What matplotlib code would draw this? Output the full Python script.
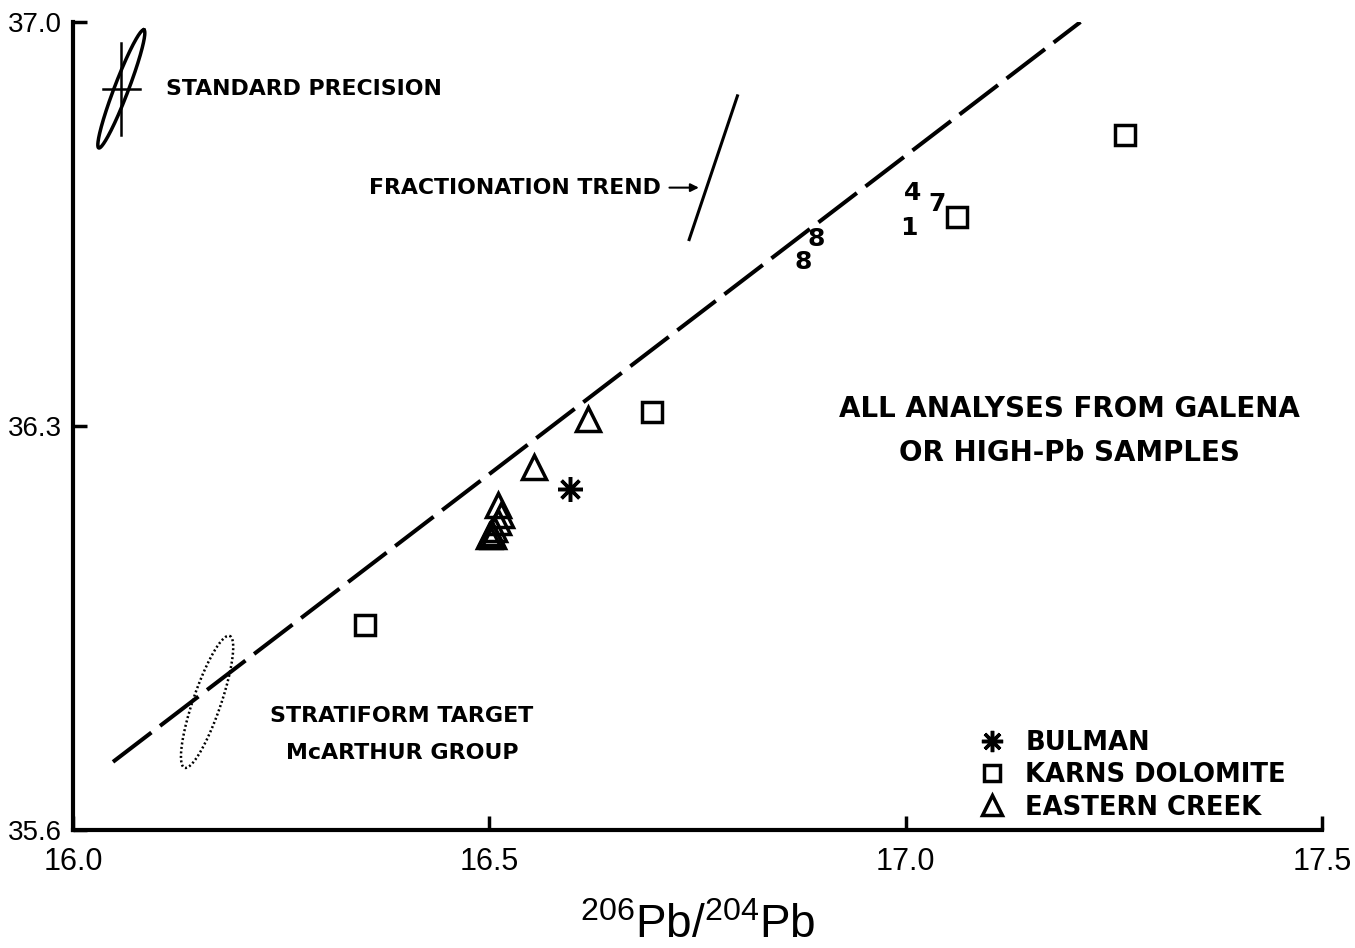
import numpy as np
import matplotlib
matplotlib.use('Agg')
import matplotlib.pyplot as plt

plt.rcParams['font.family'] = ['DejaVu Sans']
plt.rcParams['mathtext.fontset'] = 'custom'
plt.rcParams['mathtext.rm'] = 'Liberation Sans'

# data (206Pb/204Pb , 208Pb/204Pb)
bulman_x = [16.597]
bulman_y = [36.191]

karns_x = [16.351, 16.695, 17.062, 17.264]
karns_y = [35.955, 36.324, 36.662, 36.805]

eastern_x = [16.618, 16.554, 16.511, 16.514, 16.511, 16.506, 16.502, 16.499, 16.505]
eastern_y = [36.312, 36.229, 36.163, 36.146, 36.133, 36.122, 36.114, 36.109, 36.110]

# numbered samples plotted as labels
num_labels = ['4', '7', '1', '8', '8']
num_x = [17.008, 17.038, 17.004, 16.893, 16.877]
num_y = [36.704, 36.685, 36.643, 36.624, 36.584]

# reference line and fractionation trend
ref_x = [16.048, 17.210]
ref_y = [35.718, 37.000]
frac_x = [16.798, 16.740]
frac_y = [36.872, 36.623]

xticks = [16.0, 16.5, 17.0, 17.5]
yticks = [35.6, 36.3, 37.0]

# ellipses: centre, semi-major vector, semi-minor vector (data units)
prec_c = (16.058, 36.884)
prec_u = (0.0271, 0.1023)
prec_v = (0.0079, -0.0043)
strat_c = (16.161, 35.822)
strat_u = (0.0270, 0.1143)
strat_v = (0.0160, -0.0071)


def ellipse_pts(c, u, v, n=200):
    t = np.linspace(0, 2 * np.pi, n)
    x = c[0] + u[0] * np.cos(t) + v[0] * np.sin(t)
    y = c[1] + u[1] * np.cos(t) + v[1] * np.sin(t)
    return x, y


fig = plt.figure(figsize=(13.55, 9.48), dpi=100)
ax = fig.add_axes([0.0539, 0.1245, 0.9217, 0.8523])
ax.set_xlim(16.0, 17.5)
ax.set_ylim(35.6, 37.0)

for s in ['top', 'right']:
    ax.spines[s].set_visible(False)
for s in ['left', 'bottom']:
    ax.spines[s].set_linewidth(3)

ax.set_xticks(xticks)
ax.set_xticklabels(['%.1f' % v for v in xticks], family='Liberation Sans', fontsize=22)
ax.set_yticks(yticks)
ax.set_yticklabels(['%.1f' % v for v in yticks], family='Liberation Sans', fontsize=20)
ax.tick_params(axis='both', direction='in', length=10, width=2.5, color='black')
ax.tick_params(axis='x', pad=12)
ax.tick_params(axis='y', pad=8)

# dashed reference line
ax.plot(ref_x, ref_y, color='black', lw=2.9, linestyle=(0, (12, 2.7)))
ax.plot(frac_x, frac_y, color='black', lw=2.2)

# samples
h1, = ax.plot(bulman_x, bulman_y, linestyle='none', marker=(8, 2, 0), ms=18, mew=2.5, color='black', label='BULMAN')
h2, = ax.plot(karns_x, karns_y, linestyle='none', marker='s', ms=14, mew=2.5, mfc='white', mec='black', label='KARNS DOLOMITE')
h3, = ax.plot(eastern_x, eastern_y, linestyle='none', marker='^', ms=17, mew=2.5, mfc='none', mec='black', label='EASTERN CREEK')

for lab, x, y in zip(num_labels, num_x, num_y):
    ax.text(x, y, lab, fontsize=18, fontweight='bold', ha='center', va='center')

# precision ellipse and cross
ex, ey = ellipse_pts(prec_c, prec_u, prec_v)
ax.plot(ex, ey, color='black', lw=2.5, clip_on=False)
ax.plot([prec_c[0] - 0.022, prec_c[0] + 0.022], [prec_c[1], prec_c[1]], color='black', lw=1.8)
ax.plot([prec_c[0], prec_c[0]], [prec_c[1] - 0.08, prec_c[1] + 0.08], color='black', lw=1.8)

ex, ey = ellipse_pts(strat_c, strat_u, strat_v)
ax.plot(ex, ey, color='black', lw=1.8, linestyle=(0, (0.8, 1.0)))

# annotations
ax.text(16.112, 36.884, 'STANDARD PRECISION', fontsize=15.8, fontweight='bold', va='center', ha='left')
ax.text(16.706, 36.713, 'FRACTIONATION TREND', fontsize=15.8, fontweight='bold', va='center', ha='right')
ax.annotate('', xy=(16.755, 36.713), xytext=(16.713, 36.713),
            arrowprops=dict(arrowstyle='-|>', color='black', lw=1.5, mutation_scale=12))
ax.text(17.197, 36.33, 'ALL ANALYSES FROM GALENA', fontsize=20, fontweight='bold', ha='center', va='center')
ax.text(17.197, 36.253, 'OR HIGH-Pb SAMPLES', fontsize=20, fontweight='bold', ha='center', va='center')
ax.text(16.395, 35.797, 'STRATIFORM TARGET', fontsize=15.9, fontweight='bold', ha='center', va='center')
ax.text(16.395, 35.734, 'McARTHUR GROUP', fontsize=15.9, fontweight='bold', ha='center', va='center')

ax.legend(handles=[h1, h2, h3], loc='upper left', bbox_to_anchor=(0.715, 0.137),
          frameon=False, handletextpad=0.7, labelspacing=0.25,
          prop=dict(size=18.6, weight='bold'),
          handlelength=1.2, markerscale=0.85, borderaxespad=0)

ax.set_xlabel(r'$^{206}$Pb/$^{204}$Pb', family='Liberation Sans', fontsize=33, labelpad=20)

fig.savefig('out.png', dpi=100)
